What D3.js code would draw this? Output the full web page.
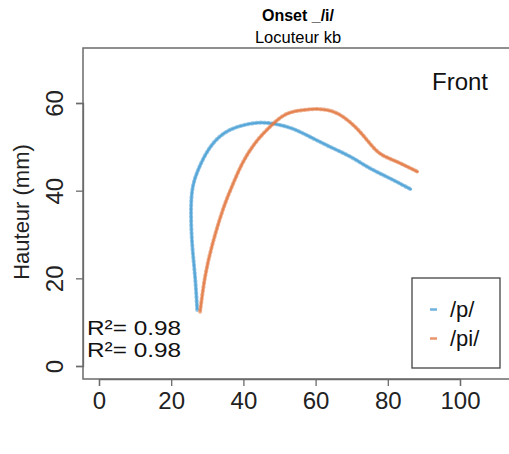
<!DOCTYPE html>
<html>
<head>
<meta charset="utf-8">
<script src="https://cdn.jsdelivr.net/npm/d3@7"></script>
<style>
  html, body { margin: 0; padding: 0; background: #fff; }
  svg { display: block; font-family: "Liberation Sans", Arial, sans-serif; }
</style>
</head>
<body>
<svg id="chart" width="509" height="454"></svg>
<script>
// ---- data ----
const xTicks = [0, 20, 40, 60, 80, 100];
const yTicks = [0, 20, 40, 60];
const seriesNames = ["/p/", "/pi/"];
const seriesColors = ["#4ba0d6", "#e27a45"];
const pX = [27.2, 26.6, 25.8, 25.5, 26.0, 27.6, 30.3, 34.0, 38.6, 44.1, 48.8, 53.4, 58.4, 64.0, 69.5, 75.1, 80.6, 86.6];
const pY = [12.8, 20.4, 28.0, 35.6, 40.9, 45.0, 49.3, 52.7, 54.6, 55.5, 55.2, 54.2, 52.3, 50.0, 47.8, 45.1, 42.8, 40.2];
const piX = [28.0, 29.4, 31.5, 34.3, 36.8, 39.7, 43.2, 46.9, 51.5, 56.6, 61.2, 65.8, 70.4, 74.2, 77.8, 82.5, 88.5];
const piY = [12.4, 20.4, 28.0, 35.6, 40.9, 46.2, 50.8, 54.2, 57.3, 58.4, 58.6, 57.7, 55.0, 51.6, 48.5, 46.6, 44.2];
const r2Labels = ["R\u00b2= 0.98", "R\u00b2= 0.98"];
const titleText = "Onset _/i/";
const subtitleText = "Locuteur kb";
const panelLabel = "Front";
const yTitle = "Hauteur (mm)";

const svg = d3.select("#chart");
const x = d3.scaleLinear().domain([0, 100]).range([99, 460]);
const y = d3.scaleLinear().domain([0, 60]).range([366, 103]);
const box = { left: 83, top: 48, right: 512, bottom: 379 };
const frameColor = "#6b6b6b";

// titles
svg.append("text").attr("x", 298).attr("y", 20.5).attr("text-anchor", "middle")
  .style("font-size", "16px").style("font-weight", "bold").text(titleText);
svg.append("text").attr("x", 298).attr("y", 43).attr("text-anchor", "middle")
  .style("font-size", "16.5px").text(subtitleText);

// axes
const gx = svg.append("g").attr("transform", `translate(0,${box.bottom})`)
  .call(d3.axisBottom(x).tickValues(xTicks).tickSize(7).tickPadding(6).tickFormat(d3.format("d")));
gx.selectAll("text").style("font-size", "24px").attr("fill", "#222");
const gy = svg.append("g").attr("transform", `translate(${box.left},0)`)
  .call(d3.axisLeft(y).tickValues(yTicks).tickSize(7).tickFormat(d3.format("d")));
gy.selectAll("text").style("font-size", "24px").attr("fill", "#222")
  .attr("x", 0).attr("dy", 0).attr("text-anchor", "middle")
  .attr("transform", "translate(-20,0) rotate(-90)");
[gx, gy].forEach(g => {
  g.selectAll("line").attr("stroke", frameColor).attr("stroke-width", 1.3);
  g.select(".domain").attr("stroke", frameColor).attr("stroke-width", 1.3);
});

// plot frame
svg.append("rect").attr("x", box.left).attr("y", box.top)
  .attr("width", box.right - box.left).attr("height", box.bottom - box.top)
  .attr("fill", "none").attr("stroke", frameColor).attr("stroke-width", 1.5);

// y title
svg.append("text").attr("transform", "translate(29,212) rotate(-90)")
  .attr("text-anchor", "middle").style("font-size", "22px").attr("fill", "#222").text(yTitle);

// curves
const series = [
  { xs: pX, ys: pY, color: seriesColors[0] },
  { xs: piX, ys: piY, color: seriesColors[1] }
];
const line = d3.line().x(d => x(d[0])).y(d => y(d[1])).curve(d3.curveNatural);
series.forEach(s => {
  const pts = s.xs.map((v, i) => [v, s.ys[i]]);
  svg.append("path").attr("d", line(pts)).attr("fill", "none")
    .attr("stroke", s.color).attr("stroke-width", 2).attr("stroke-opacity", 0.85);
  svg.append("path").attr("d", line(pts)).attr("fill", "none")
    .attr("stroke", s.color).attr("stroke-width", 4).attr("stroke-opacity", 0.6)
    .attr("stroke-linecap", "round")
    .attr("stroke-dasharray", "1.6,2.4");
});

// panel label
svg.append("text").attr("x", 432).attr("y", 90).style("font-size", "24px").attr("fill", "#111").text(panelLabel);

// R2 labels
r2Labels.forEach((t, i) => {
  svg.append("text").attr("x", 87).attr("y", 335 + i * 22).style("font-size", "20px")
    .attr("textLength", 94).attr("lengthAdjust", "spacingAndGlyphs")
    .attr("fill", "#111").text(t);
});

// legend
svg.append("rect").attr("x", 412).attr("y", 278).attr("width", 88).attr("height", 90)
  .attr("fill", "#fff").attr("stroke", "#444").attr("stroke-width", 1.3);
seriesNames.forEach((n, i) => {
  const yy = 309.5 + i * 29;
  svg.append("line").attr("x1", 430).attr("x2", 437).attr("y1", yy).attr("y2", yy)
    .attr("stroke", seriesColors[i]).attr("stroke-width", 2.5).attr("stroke-opacity", 0.8);
  svg.append("text").attr("x", 450).attr("y", yy + 7.5).style("font-size", "22px")
    .attr("fill", "#111").text(n);
});
</script>
</body>
</html>
